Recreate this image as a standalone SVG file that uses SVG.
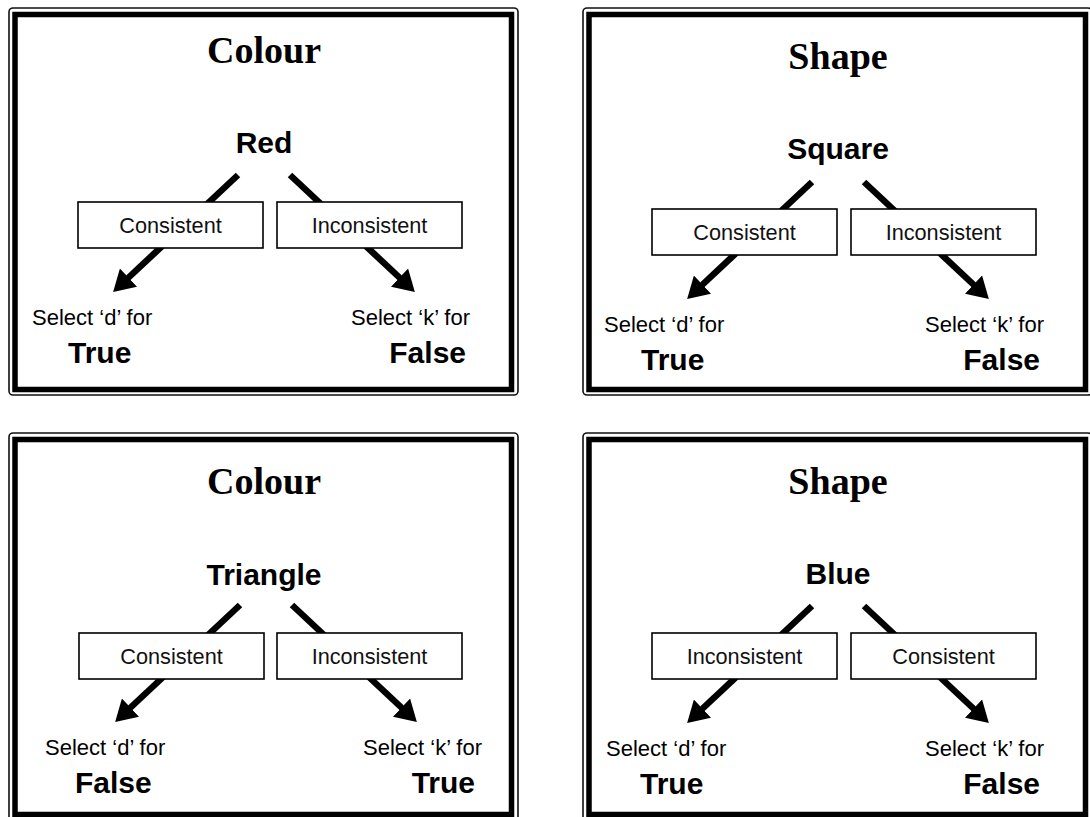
<svg xmlns="http://www.w3.org/2000/svg" width="1090" height="817" viewBox="0 0 1090 817">
<defs>
<style>
.frame-outer{fill:#fff;stroke:#111;stroke-width:1.6}
.frame-inner{fill:none;stroke:#000;stroke-width:5.5}
.title{font-family:"Liberation Serif","Times New Roman",serif;font-weight:bold;font-size:38px;fill:#000;text-anchor:middle}
.word{font-family:"Liberation Sans",Arial,sans-serif;font-weight:bold;font-size:30px;fill:#000;text-anchor:middle}
.box{fill:#fff;stroke:#000;stroke-width:1.6}
.boxtxt{font-family:"Liberation Sans",Arial,sans-serif;font-size:21.7px;fill:#111;text-anchor:middle}
.sel{font-family:"Liberation Sans",Arial,sans-serif;font-size:22px;fill:#000}
.res{font-family:"Liberation Sans",Arial,sans-serif;font-weight:bold;font-size:30px;fill:#000}
.end{text-anchor:end}
.arrow{stroke:#000;stroke-width:6.5;fill:none;marker-end:url(#head)}
</style>
<marker id="head" viewBox="0 0 21 25" refX="2" refY="12.5" markerWidth="21" markerHeight="25" markerUnits="userSpaceOnUse" orient="auto">
<path d="M0,0 L21,12.5 L0,25 z" fill="#000"/>
</marker>
</defs>

<g id="panels">
<g id="panel-tl">
<rect class="frame-outer" x="9" y="8" width="509" height="387" rx="4"/>
<rect class="frame-inner" x="15" y="14.5" width="496.5" height="375"/>
</g>
<g id="panel-tr">
<rect class="frame-outer" x="583" y="8" width="509" height="387" rx="4"/>
<rect class="frame-inner" x="589" y="14.5" width="496.5" height="375"/>
</g>
<g id="panel-bl">
<rect class="frame-outer" x="9" y="433" width="509" height="390" rx="4"/>
<rect class="frame-inner" x="15" y="439.5" width="496.5" height="375"/>
</g>
<g id="panel-br">
<rect class="frame-outer" x="583" y="433" width="509" height="390" rx="4"/>
<rect class="frame-inner" x="589" y="439.5" width="496.5" height="375"/>
</g>
</g>

<g id="connectors">
<line class="arrow" x1="238" y1="175" x2="127" y2="279"/>
<line class="arrow" x1="290" y1="175" x2="401" y2="279"/>
<line class="arrow" x1="812" y1="182" x2="701" y2="286"/>
<line class="arrow" x1="864" y1="182" x2="975" y2="286"/>
<line class="arrow" x1="240" y1="605" x2="129" y2="709"/>
<line class="arrow" x1="292" y1="605" x2="403" y2="709"/>
<line class="arrow" x1="812" y1="606" x2="701" y2="710"/>
<line class="arrow" x1="864" y1="606" x2="975" y2="710"/>
</g>

<g id="node-tl">
<text class="title" x="264" y="63">Colour</text>
<text class="word" x="264" y="153">Red</text>
<g id="tl-consistent"><rect class="box" x="78" y="202" width="185" height="46"/><text class="boxtxt" x="170.5" y="233">Consistent</text></g>
<g id="tl-inconsistent"><rect class="box" x="277" y="202" width="185" height="46"/><text class="boxtxt" x="369.5" y="233">Inconsistent</text></g>
<text class="sel" x="32" y="325">Select ‘d’ for</text>
<text class="res" x="68" y="363">True</text>
<text class="sel end" x="470" y="325">Select ‘k’ for</text>
<text class="res end" x="466" y="363">False</text>
</g>

<g id="node-tr">
<text class="title" x="838" y="69">Shape</text>
<text class="word" x="838" y="159">Square</text>
<g id="tr-consistent"><rect class="box" x="652" y="209" width="185" height="46"/><text class="boxtxt" x="744.5" y="240">Consistent</text></g>
<g id="tr-inconsistent"><rect class="box" x="851" y="209" width="185" height="46"/><text class="boxtxt" x="943.5" y="240">Inconsistent</text></g>
<text class="sel" x="604" y="332">Select ‘d’ for</text>
<text class="res" x="641" y="370">True</text>
<text class="sel end" x="1044" y="332">Select ‘k’ for</text>
<text class="res end" x="1040" y="370">False</text>
</g>

<g id="node-bl">
<text class="title" x="264" y="494">Colour</text>
<text class="word" x="264" y="585">Triangle</text>
<g id="bl-consistent"><rect class="box" x="79" y="633" width="185" height="46"/><text class="boxtxt" x="171.5" y="664">Consistent</text></g>
<g id="bl-inconsistent"><rect class="box" x="277" y="633" width="185" height="46"/><text class="boxtxt" x="369.5" y="664">Inconsistent</text></g>
<text class="sel" x="45" y="755">Select ‘d’ for</text>
<text class="res" x="75" y="793">False</text>
<text class="sel end" x="482" y="755">Select ‘k’ for</text>
<text class="res end" x="475" y="793">True</text>
</g>

<g id="node-br">
<text class="title" x="838" y="494">Shape</text>
<text class="word" x="838" y="584">Blue</text>
<g id="br-inconsistent"><rect class="box" x="652" y="633" width="185" height="46"/><text class="boxtxt" x="744.5" y="664">Inconsistent</text></g>
<g id="br-consistent"><rect class="box" x="851" y="633" width="185" height="46"/><text class="boxtxt" x="943.5" y="664">Consistent</text></g>
<text class="sel" x="606" y="756">Select ‘d’ for</text>
<text class="res" x="640" y="794">True</text>
<text class="sel end" x="1044" y="756">Select ‘k’ for</text>
<text class="res end" x="1040" y="794">False</text>
</g>
</svg>
